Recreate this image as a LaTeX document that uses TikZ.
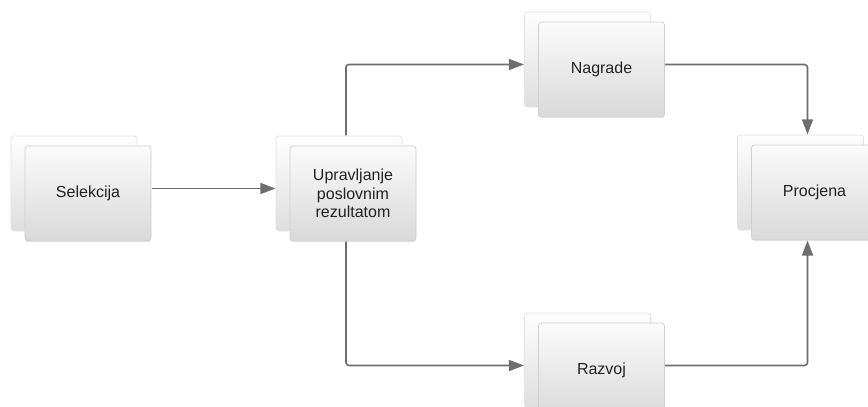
\documentclass[tikz,border=0pt]{standalone}
\usepackage{fontspec}
\setmainfont{Liberation Sans}
\usetikzlibrary{arrows.meta,fit,shadows}
\definecolor{boxtop}{HTML}{FBFBFB}
\definecolor{boxbot}{HTML}{D9D9D9}
\definecolor{boxline}{HTML}{CFCFCF}
\definecolor{backtop}{HTML}{FEFEFE}
\definecolor{backbot}{HTML}{DEDEDE}
\definecolor{backline}{HTML}{E2E2E2}
\definecolor{connc}{HTML}{6E6E6E}
\definecolor{txt}{HTML}{222222}
\tikzset{
  frontbox/.style={draw=boxline, line width=0.7pt, rounded corners=3pt,
    top color=boxtop, bottom color=boxbot,
    minimum width=126pt, minimum height=95pt, inner sep=0pt,
    align=center, text=txt, font=\fontsize{16}{18.5}\selectfont,
    drop shadow={shadow xshift=0pt, shadow yshift=-1pt, opacity=0.12}},
  backbox/.style={draw=backline, line width=0.7pt, rounded corners=3pt,
    top color=backtop, bottom color=backbot,
    minimum width=126pt, minimum height=95pt, inner sep=0pt},
  allbox/.style={inner sep=0pt, draw=none},
  conn/.style={draw=connc, line width=1.6pt, rounded corners=3pt,
    -{Triangle[length=15pt,width=11pt]}}
}
\newcommand\stackbox[4]{%
  \node[backbox] (#1b) at (#2-14,#3-10) {};
  \node[frontbox] (#1) at (#2,#3) {#4};
  \node[allbox, fit=(#1b)(#1)] (#1all) {};
}
\begin{document}
\begin{tikzpicture}[x=1pt,y=-1pt]
\useasboundingbox (0,0) rectangle (868,407);
\stackbox{sel}{88}{193.5}{Selekcija}
\stackbox{upr}{353}{193.5}{Upravljanje\\poslovnim\\rezultatom}
\stackbox{nag}{601.5}{69.5}{Nagrade}
\stackbox{raz}{601.5}{370.5}{Razvoj}
\stackbox{pro}{814.5}{192.5}{Procjena}
\draw[conn] (selall.east) -- (uprall.west);
\draw[conn] (uprall.north) |- (nagall.west);
\draw[conn] (uprall.south) |- (razall.west);
\draw[conn] (nagall.east) -| (proall.north);
\draw[conn] (razall.east) -| (proall.south);
\end{tikzpicture}
\end{document}
